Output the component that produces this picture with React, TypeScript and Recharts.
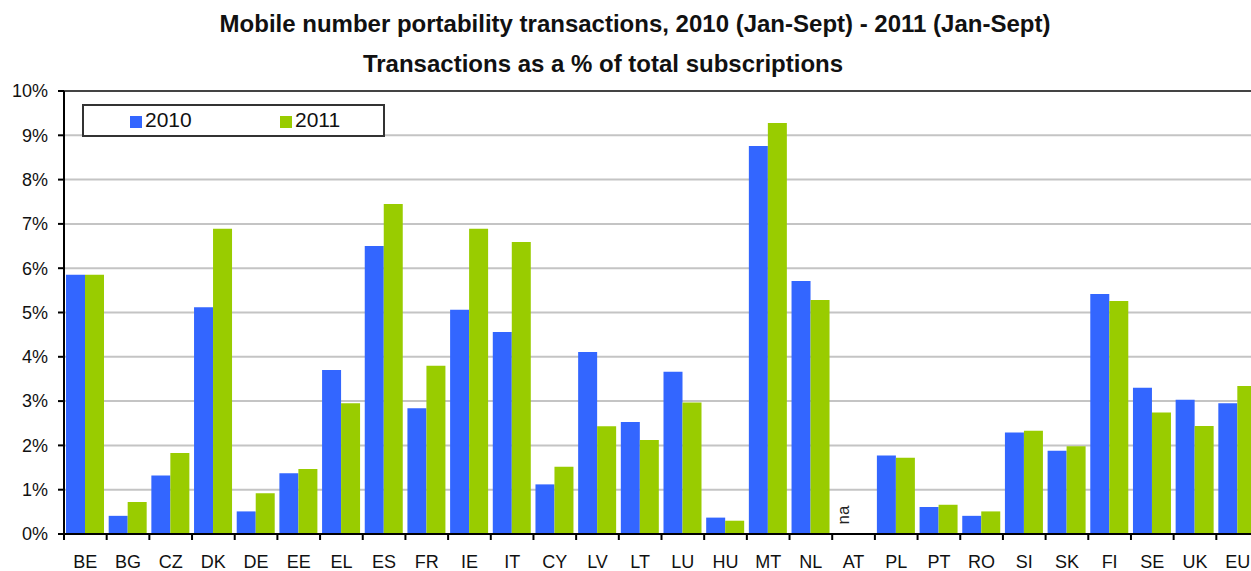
// Mobile number portability — grouped bars, 2010 vs 2011, recharts.

import {
  BarChart,
  Bar,
  XAxis,
  YAxis,
  CartesianGrid,
  ReferenceLine,
  ReferenceDot,
} from "recharts";

const countries = [
  "BE", "BG", "CZ", "DK", "DE", "EE", "EL", "ES", "FR", "IE", "IT", "CY", "LV", "LT",
  "LU", "HU", "MT", "NL", "AT", "PL", "PT", "RO", "SI", "SK", "FI", "SE", "UK", "EU",
];

// % of total subscriptions (AT: not available)
const values2010 = [
  5.85, 0.41, 1.32, 5.12, 0.51, 1.37, 3.7, 6.5, 2.84, 5.06, 4.56, 1.12, 4.11, 2.53,
  3.66, 0.37, 8.76, 5.71, null, 1.77, 0.61, 0.41, 2.29, 1.88, 5.42, 3.3, 3.03, 2.95,
];
const values2011 = [
  5.85, 0.72, 1.83, 6.89, 0.92, 1.47, 2.95, 7.45, 3.8, 6.89, 6.59, 1.52, 2.43, 2.12,
  2.97, 0.3, 9.28, 5.28, null, 1.72, 0.66, 0.51, 2.33, 1.98, 5.26, 2.74, 2.44, 3.34,
];
const yTicks = [0, 1, 2, 3, 4, 5, 6, 7, 8, 9, 10];

const BLUE = "#3366FF";
const GREEN = "#99CC00";
const FONT = "'Liberation Sans', Arial, sans-serif";

const CHART_W = 1280;
const CHART_H = 571;
const MARGIN = { top: 91, right: 21, bottom: 0, left: 0 };
const Y_AXIS_W = 64;
const PLOT_W = CHART_W - MARGIN.left - MARGIN.right - Y_AXIS_W;
const BAND = PLOT_W / countries.length;

const data = countries.map((c, i) => ({
  country: c,
  y2010: values2010[i],
  y2011: values2011[i],
}));

function CountryTick({ x, y, payload }: any) {
  const left = x - BAND / 2;
  return (
    <g>
      <line x1={left} x2={left} y1={y} y2={y + 6} stroke="#000" strokeWidth={2} />
      <text x={x} y={y + 34} textAnchor="middle" fontSize={18} fontFamily={FONT} fill="#111">
        {payload.value}
      </text>
    </g>
  );
}

function NaLabel({ viewBox }: any) {
  const cx = viewBox.x + viewBox.width / 2 - 10;
  const cy = viewBox.y + viewBox.height / 2 - 19;
  return (
    <text
      x={cx}
      y={cy}
      transform={`rotate(-90 ${cx} ${cy})`}
      textAnchor="middle"
      dominantBaseline="central"
      fontSize={17}
      fontFamily={FONT}
      fill="#222"
    >
      na
    </text>
  );
}

const titleStyle = {
  position: "absolute" as const,
  width: 1000,
  textAlign: "center" as const,
  fontSize: 24,
  fontWeight: "bold" as const,
  lineHeight: "24px",
  color: "#111",
  whiteSpace: "nowrap" as const,
};

export default function App() {
  return (
    <div
      style={{
        position: "absolute",
        left: 0,
        top: 0,
        width: 1251,
        height: 571,
        overflow: "hidden",
        background: "#fff",
        fontFamily: FONT,
      }}
    >
      <div style={{ ...titleStyle, left: 135, top: 12 }}>
        Mobile number portability transactions, 2010 (Jan-Sept) - 2011 (Jan-Sept)
      </div>
      <div style={{ ...titleStyle, left: 103, top: 52 }}>
        Transactions as a % of total subscriptions
      </div>

      <BarChart
        width={CHART_W}
        height={CHART_H}
        data={data}
        margin={MARGIN}
        barCategoryGap={2}
        barGap={0}
      >
        <CartesianGrid horizontal vertical={false} stroke="#c4c4c4" strokeWidth={2} />
        <ReferenceLine y={10} stroke="#444" strokeWidth={2} />
        <XAxis
          dataKey="country"
          height={37}
          interval={0}
          tickSize={0}
          tickMargin={0}
          tickLine={false}
          axisLine={{ stroke: "#000", strokeWidth: 2 }}
          tick={<CountryTick />}
        />
        <YAxis
          width={Y_AXIS_W}
          domain={[0, 10]}
          ticks={yTicks}
          interval={0}
          tickFormatter={(v: number) => `${v}%`}
          tickSize={6}
          tickMargin={10}
          tickLine={{ stroke: "#000", strokeWidth: 2 }}
          axisLine={{ stroke: "#000", strokeWidth: 2 }}
          tick={{ fontSize: 18, fill: "#111", fontFamily: FONT }}
        />
        <Bar dataKey="y2010" fill={BLUE} isAnimationActive={false} />
        <Bar dataKey="y2011" fill={GREEN} isAnimationActive={false} />
        <ReferenceDot
          x="AT"
          y={0}
          r={1}
          fill="none"
          stroke="none"
          label={<NaLabel />}
        />
      </BarChart>

      <div
        style={{
          position: "absolute",
          left: 82,
          top: 104,
          width: 299,
          height: 29,
          border: "2px solid #333",
          background: "#fff",
        }}
      >
        <div style={{ position: "absolute", left: 46, top: 10, width: 12, height: 12, background: BLUE }} />
        <div style={{ position: "absolute", left: 61, top: 3, fontSize: 21, lineHeight: "22px", color: "#111" }}>
          2010
        </div>
        <div style={{ position: "absolute", left: 196, top: 10, width: 12, height: 12, background: GREEN }} />
        <div style={{ position: "absolute", left: 211, top: 3, fontSize: 21, lineHeight: "22px", color: "#111" }}>
          2011
        </div>
      </div>
    </div>
  );
}
